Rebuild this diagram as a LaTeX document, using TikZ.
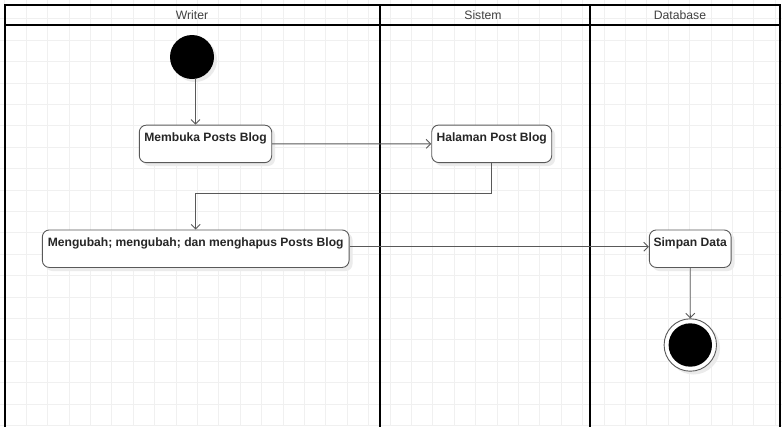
\documentclass[tikz,border=0pt]{standalone}
\usepackage{fontspec}
\setmainfont{Liberation Sans}
\usetikzlibrary{arrows.meta,calc}
\tikzset{
  act/.style={draw=black!65, line width=0.9pt, fill=white, rounded corners=7pt,
    minimum height=37.5pt, inner sep=0pt, text height=8.7pt, text depth=12.7pt,
    font=\fontsize{12.1}{14}\selectfont\bfseries, text=black!85},
  shadowbox/.style={fill=black!8, rounded corners=7pt, draw=none},
  arr/.style={draw=black!65, line width=0.9pt, -{Straight Barb[length=4.5pt,width=9pt]}},
  lane/.style={line width=1.8pt, black},
  hdr/.style={font=\fontsize{12.2}{14}\selectfont, text=black!75},
  gridline/.style={draw=black!6, line width=0.6pt}
}
\begin{document}
\begin{tikzpicture}[x=1pt,y=-1pt]
\useasboundingbox (0,0) rectangle (782,426);
\fill[white] (0,0) rectangle (782,426);
% grid
\foreach \k in {0,...,36} { \draw[gridline] ({4.6+21.4*\k},0) -- ({4.6+21.4*\k},426); }
\foreach \k in {1,...,20} { \draw[gridline] (0,{-2.8+21.4*\k}) -- (782,{-2.8+21.4*\k}); }
% pool
\draw[lane] (5,430) -- (5,5) -- (780,5) -- (780,430);
\draw[lane] (5,25) -- (780,25);
\draw[lane] (380,5) -- (380,430);
\draw[lane] (590,5) -- (590,430);
\node[hdr] (hw) at (192,15) {Writer};
\node[hdr] (hs) at (483,15) {Sistem};
\node[hdr] (hd) at (680,15) {Database};
% shadows
\fill[shadowbox] (142.5,128) rectangle (275,166);
\fill[shadowbox] (435,128) rectangle (555,166);
\fill[shadowbox] (45.5,233) rectangle (352.5,271);
\fill[shadowbox] (652.5,233) rectangle (734.5,271);
\fill[black!8] (693.5,348) circle (26.5);
\fill[black!8] (195,60) circle (22);
% nodes
\node[circle, fill=black, inner sep=0pt, minimum size=44pt] (start) at (192,57) {};
\node[act, minimum width=132.4pt] (membuka) at (205.5,143.9) {Membuka Posts Blog};
\node[act, minimum width=120pt] (halaman) at (491.7,143.8) {Halaman Post Blog};
\node[act, minimum width=306.7pt] (mengubah) at (195.7,248.7) {Mengubah; mengubah; dan menghapus Posts Blog};
\node[act, minimum width=81.7pt] (simpan) at (690.2,248.7) {Simpan Data};
\node[circle, draw=black!65, line width=0.9pt, fill=white, inner sep=0pt, minimum size=52.4pt] (end) at (690.3,345) {};
\node[circle, fill=black, inner sep=0pt, minimum size=43.4pt] (endin) at (end.center) {};
% connectors
\draw[arr] ([xshift=3.5pt]start.south) -- ([xshift=3.5pt]start.south |- membuka.north);
\draw[arr] (membuka.east) -- (halaman.west);
\draw[arr] (halaman.south) -- ++(0,30) -| (mengubah.north);
\draw[arr] ([yshift=2pt]mengubah.east) -- ([yshift=2pt]simpan.west);
\draw[arr] (simpan.south) -- (end.north);
\end{tikzpicture}
\end{document}
